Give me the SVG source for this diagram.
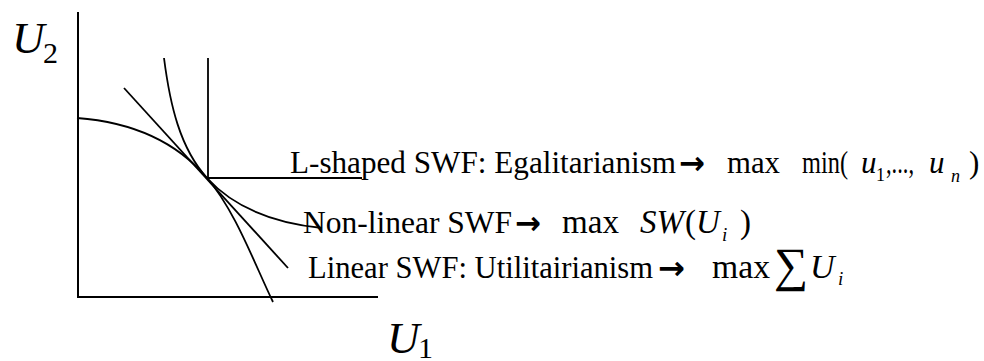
<svg xmlns="http://www.w3.org/2000/svg" width="984" height="361" viewBox="0 0 984 361">
<style>
.ln{fill:none;stroke:#000;stroke-width:2}
.cv{fill:none;stroke:#000;stroke-width:1.8}
.it{font-style:italic}
.ar{font-family:'DejaVu Sans',sans-serif;font-weight:bold}
</style>
<rect width="984" height="361" fill="#fff"/>
<g font-family="Times New Roman, Liberation Serif, Tinos, DejaVu Serif, serif" font-size="31" fill="#000">
<g id="axes">
<path class="ln" d="M78,12 V297 H378"/>
<text class="it" x="12" y="53" font-size="45">U</text>
<text x="43" y="63" font-size="30">2</text>
<text class="it" x="387" y="353" font-size="45">U</text>
<text x="418" y="358" font-size="30">1</text>
</g>
<g id="curves">
<path id="frontier" class="cv" d="M77,118 C130,122 175,140 207,178 C235,210 255,265 273,302"/>
<path id="linear" class="cv" d="M124,88 L288,268"/>
<path id="nonlinear" class="cv" d="M164,58 C170,105 180,148 207,178 C238,212 282,224 322,228"/>
<path id="lshape" class="cv" d="M208,58 V178 H362"/>
</g>
<g id="label-lshaped">
<text x="290" y="173" font-size="32" textLength="386" lengthAdjust="spacingAndGlyphs">L-shaped SWF: Egalitarianism</text>
<text class="ar" x="679" y="174" font-size="32" textLength="26" lengthAdjust="spacingAndGlyphs">→</text>
<text x="727" y="173" textLength="53" lengthAdjust="spacingAndGlyphs">max</text>
<text x="802" y="173" textLength="46" lengthAdjust="spacingAndGlyphs">min(</text>
<text class="it" x="861" y="173">u</text>
<text x="876" y="181" font-size="18">1</text>
<text x="886" y="173" textLength="28" lengthAdjust="spacingAndGlyphs">,...,</text>
<text class="it" x="929" y="173">u</text>
<text class="it" x="951" y="182" font-size="18">n</text>
<text x="969" y="173">)</text>
</g>
<g id="label-nonlinear">
<text x="303" y="233" font-size="32" textLength="209" lengthAdjust="spacingAndGlyphs">Non-linear SWF</text>
<text class="ar" x="515" y="234" font-size="32" textLength="26" lengthAdjust="spacingAndGlyphs">→</text>
<text x="562" y="233" font-size="33" textLength="57" lengthAdjust="spacingAndGlyphs">max</text>
<text class="it" x="640" y="233" font-size="33" textLength="44" lengthAdjust="spacingAndGlyphs">SW</text>
<text x="685" y="233" font-size="33">(</text>
<text class="it" x="696" y="233" font-size="33">U</text>
<text class="it" x="722" y="241" font-size="19">i</text>
<text x="740" y="233" font-size="33">)</text>
</g>
<g id="label-linear">
<text x="308" y="278" font-size="32" textLength="345" lengthAdjust="spacingAndGlyphs">Linear SWF: Utilitairianism</text>
<text class="ar" x="658" y="279" font-size="32" textLength="27" lengthAdjust="spacingAndGlyphs">→</text>
<text x="712" y="278" font-size="34" textLength="58" lengthAdjust="spacingAndGlyphs">max</text>
<text x="774" y="281" font-size="48">∑</text>
<text class="it" x="810" y="278" font-size="34">U</text>
<text class="it" x="838" y="285" font-size="19">i</text>
</g>
</g>
</svg>
